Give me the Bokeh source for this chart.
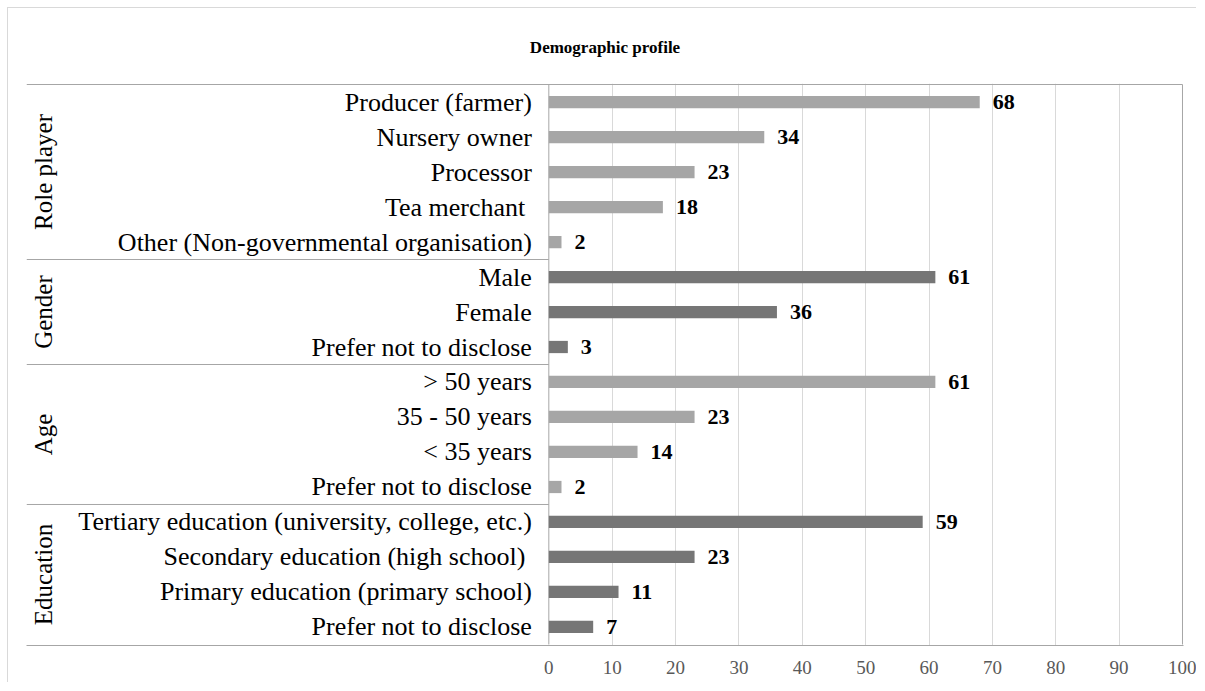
import math
from bokeh.plotting import figure
from bokeh.models import Range1d, FixedTicker, Label, ColumnDataSource
from bokeh.core.properties import value
from bokeh.embed import file_html
from bokeh.resources import INLINE

# ---------------- data ----------------
title_text = "Demographic profile"
groups = ["Role player", "Gender", "Age", "Education"]

role_labels = ["Producer (farmer)", "Nursery owner", "Processor", "Tea merchant ",
               "Other (Non-governmental organisation)"]
role_values = [68, 34, 23, 18, 2]

gender_labels = ["Male", "Female", "Prefer not to disclose"]
gender_values = [61, 36, 3]

age_labels = ["> 50 years", "35 - 50 years", "< 35 years", "Prefer not to disclose"]
age_values = [61, 23, 14, 2]

edu_labels = ["Tertiary education (university, college, etc.)",
              "Secondary education (high school) ",
              "Primary education (primary school)",
              "Prefer not to disclose"]
edu_values = [59, 23, 11, 7]

tick_values = [0, 10, 20, 30, 40, 50, 60, 70, 80, 90, 100]

# ---------------- build rows ----------------
LIGHT = "#A6A6A6"
DARK = "#767676"
group_lists = [(role_labels, role_values, LIGHT), (gender_labels, gender_values, DARK),
               (age_labels, age_values, LIGHT), (edu_labels, edu_values, DARK)]

labels, vals, cols, ys = [], [], [], []
group_centers, boundaries = [], []
row = 0
for labs, vs, c in group_lists:
    start_row = row
    for l, v in zip(labs, vs):
        labels.append(l)
        vals.append(v)
        cols.append(c)
        ys.append(row)
        row += 1
    group_centers.append((start_row + row - 1) / 2)
    boundaries.append(row - 0.5)
n_rows = row

src = ColumnDataSource(dict(y=ys, v=vals, c=cols, lab=labels, vtxt=[str(v) for v in vals]))

X0 = -82.43
X1 = 100.16
SERIF = value("Liberation Serif")

p = figure(width=1189, height=675,
           x_range=Range1d(X0, X1),
           y_range=Range1d(n_rows - 0.5 + 0.029, -0.529),
           output_backend="svg", toolbar_location=None,
           y_axis_location=None,
           min_border_left=18, min_border_right=14,
           min_border_top=75, min_border_bottom=38,
           background_fill_color="white", border_fill_color="white",
           styles={"margin-left": "7px", "margin-top": "7px",
                   "border-left": "1px solid #D9D9D9", "border-top": "1px solid #D9D9D9"})
p.outline_line_color = None

# title
p.title.text = title_text
p.title.align = "center"
p.title.text_font = "Liberation Serif"
p.title.text_font_style = "bold"
p.title.text_font_size = "17px"
p.title.text_color = "black"
p.title.standoff = 54

# grid
p.ygrid.grid_line_color = None
p.xgrid.ticker = FixedTicker(ticks=tick_values[1:-1])
p.xgrid.grid_line_color = "#D9D9D9"
p.xgrid.grid_line_width = 1

# x axis
p.xaxis.ticker = FixedTicker(ticks=tick_values)
p.xaxis.axis_line_color = "#A6A6A6"
p.xaxis.major_tick_line_color = None
p.xaxis.minor_tick_line_color = None
p.xaxis.major_label_standoff = 9
p.xaxis.major_label_text_font = "Liberation Serif"
p.xaxis.major_label_text_font_size = "19px"
p.xaxis.major_label_text_color = "#595959"

# frame lines
line_col = "#A6A6A6"
p.segment(x0=[X0], x1=[tick_values[-1]], y0=[-0.5], y1=[-0.5], line_color=line_col, line_width=1)
sep = boundaries[:-1]
p.segment(x0=[X0] * len(sep), x1=[0] * len(sep), y0=sep, y1=sep, line_color=line_col, line_width=1)
p.segment(x0=[0, tick_values[-1]], x1=[0, tick_values[-1]], y0=[-0.5, -0.5],
          y1=[n_rows - 0.5, n_rows - 0.5], line_color=line_col, line_width=1)

# bars
p.hbar(y="y", left=0, right="v", height=0.35, fill_color="c", line_color=None, source=src)

# value labels
p.text(x="v", y="y", text="vtxt", source=src, x_offset=13, text_align="left",
       text_baseline="middle", text_font=SERIF, text_font_style="bold",
       text_font_size="22px", text_color="black")

# category labels
p.text(x=0, y="y", text="lab", source=src, x_offset=-17, text_align="right",
       text_baseline="middle", text_font=SERIF, text_font_size="26px", text_color="black")

# group labels (screen x is measured from the frame's left edge)
for g, cy in zip(groups, group_centers):
    p.add_layout(Label(x=16.5, y=cy, x_units="screen", y_units="data", text=g,
                       angle=math.pi / 2, text_align="center", text_baseline="middle",
                       text_font="Liberation Serif", text_font_size="25px",
                       text_color="black"))

open("out.html", "w").write(file_html(p, INLINE))
